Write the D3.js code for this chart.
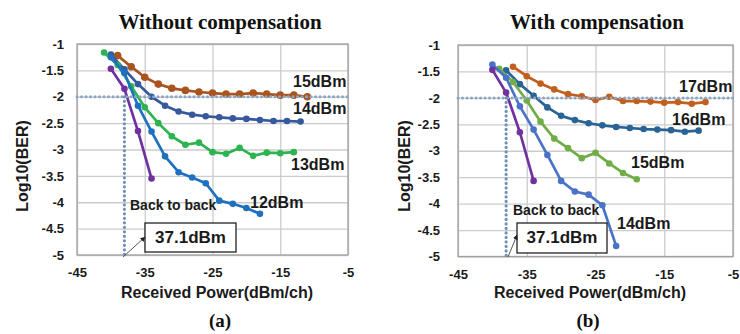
<!DOCTYPE html>
<meta charset="utf-8">
<head>
  <style>
    html, body { margin: 0; padding: 0; background: #fff; }
    svg { display: block; }
    .tick text { font-family: Arial, "Liberation Sans", sans-serif; font-weight: bold; font-size: 13px; fill: #1a1a1a; }
    .lbl { font-family: Arial, "Liberation Sans", sans-serif; font-weight: bold; fill: #1a1a1a; }
    .ttl { font-family: "Times New Roman", "Liberation Serif", serif; font-weight: bold; fill: #111; }
  </style>
</head>
<script src="https://cdn.jsdelivr.net/npm/d3@7"></script>
<body>
<script>
  // axis ticks (same for both panels)
  var xTicks = [-45, -35, -25, -15, -5];
  var yTicks = [-1, -1.5, -2, -2.5, -3, -3.5, -4, -4.5, -5];

  // (a) without compensation
  var a15x = [-39, -37, -35, -33, -31, -29, -27, -25, -23, -21, -19, -17, -15, -13, -11];
  var a15y = [-1.22, -1.43, -1.63, -1.76, -1.84, -1.88, -1.91, -1.93, -1.95, -1.95, -1.93, -1.95, -1.97, -1.97, -2.0];
  var a14x = [-40, -38, -36, -34, -32, -30, -28, -26, -24, -22, -20, -18, -16, -14, -12];
  var a14y = [-1.2, -1.48, -1.76, -2.0, -2.17, -2.28, -2.34, -2.37, -2.39, -2.41, -2.42, -2.44, -2.46, -2.46, -2.47];
  var a13x = [-41, -39, -37, -35, -33, -31, -29, -27, -25, -23, -21, -19, -17, -15, -13];
  var a13y = [-1.16, -1.4, -1.8, -2.2, -2.5, -2.75, -2.91, -2.87, -3.05, -3.08, -2.97, -3.12, -3.06, -3.07, -3.05];
  var a12x = [-40, -38, -36, -34, -32, -30, -28, -26, -24, -22, -20, -18];
  var a12y = [-1.25, -1.55, -2.17, -2.66, -3.13, -3.43, -3.53, -3.64, -3.97, -4.03, -4.11, -4.22];
  var aB2Bx = [-40, -38, -36, -34];
  var aB2By = [-1.47, -1.85, -2.65, -3.55];

  // (b) with compensation
  var b17x = [-37, -35, -33, -31, -29, -27, -25, -23, -21, -19, -17, -15, -13, -11, -9];
  var b17y = [-1.41, -1.59, -1.73, -1.84, -1.93, -1.97, -2.04, -1.98, -2.06, -2.06, -2.07, -2.09, -2.08, -2.11, -2.08];
  var b16x = [-38, -36, -34, -32, -30, -28, -26, -24, -22, -20, -18, -16, -14, -12, -10];
  var b16y = [-1.48, -1.74, -1.96, -2.18, -2.34, -2.42, -2.48, -2.52, -2.55, -2.57, -2.59, -2.6, -2.61, -2.64, -2.62];
  var b15x = [-39, -37, -35, -33, -31, -29, -27, -25, -23, -21, -19];
  var b15y = [-1.45, -1.7, -2.05, -2.45, -2.77, -2.95, -3.14, -3.04, -3.24, -3.42, -3.54];
  var b14x = [-40, -38, -36, -34, -32, -30, -28, -26, -24, -22];
  var b14y = [-1.37, -1.62, -2.16, -2.6, -3.08, -3.57, -3.77, -3.83, -4.03, -4.8];
  var bB2Bx = [-40, -38, -36, -34];
  var bB2By = [-1.47, -1.9, -2.65, -3.57];

  var thresholdBER = -2;
  var sensitivity = -38;
  var b2bText = "37.1dBm";

  function zip(xs, ys) { return xs.map(function(v, i) { return [v, ys[i]]; }); }

  var panels = [
    {
      title: "Without compensation", tag: "(a)",
      left: 77, right: 348, top: 44, bottom: 255,
      titleX: 220, tagX: 220, xTitleX: 217, yTitleX: 22, yPad: 13,
      series: [
        { name: "15dBm", pts: zip(a15x, a15y), color: "#a9541f", r: 3.8, lx: 293, ly: 87 },
        { name: "14dBm", pts: zip(a14x, a14y), color: "#35599c", r: 3.3, lx: 293, ly: 114 },
        { name: "13dBm", pts: zip(a13x, a13y), color: "#2db350", r: 3.3, lx: 291, ly: 170 },
        { name: "12dBm", pts: zip(a12x, a12y), color: "#2070c0", r: 3.3, lx: 250, ly: 208 },
        { name: "", pts: zip(aB2Bx, aB2By), color: "#7030a0", r: 3.3 }
      ],
      b2b: { x: 130, y: 210 },
      box: { x: 145, y: 223, w: 91, h: 29 },
      arrow: [[123, 257], [145, 237]]
    },
    {
      title: "With compensation", tag: "(b)",
      left: 458, right: 733, top: 45, bottom: 256.5,
      titleX: 597, tagX: 588, xTitleX: 590, yTitleX: 404, yPad: 18,
      series: [
        { name: "17dBm", pts: zip(b17x, b17y), color: "#c35f1c", r: 3.3, lx: 679, ly: 92 },
        { name: "16dBm", pts: zip(b16x, b16y), color: "#2a6496", r: 3.3, lx: 672, ly: 125 },
        { name: "15dBm", pts: zip(b15x, b15y), color: "#70ad47", r: 3.3, lx: 631, ly: 168 },
        { name: "14dBm", pts: zip(b14x, b14y), color: "#4a73c8", r: 3.3, lx: 617, ly: 229 },
        { name: "", pts: zip(bB2Bx, bB2By), color: "#7030a0", r: 3.3 }
      ],
      b2b: { x: 513, y: 215 },
      box: { x: 517, y: 223, w: 90, h: 30 },
      arrow: [[508, 257], [517, 235]]
    }
  ];

  var svg = d3.select("body").append("svg")
    .attr("width", 740)
    .attr("height", 334);

  var defs = svg.append("defs");
  defs.append("marker")
    .attr("id", "arrowHead")
    .attr("viewBox", "0 0 10 10")
    .attr("refX", 9).attr("refY", 5)
    .attr("markerWidth", 5).attr("markerHeight", 5)
    .attr("orient", "auto")
    .append("path").attr("d", "M0,0 L10,5 L0,10 z").attr("fill", "#222");

  panels.forEach(function(p) {
    var x = d3.scaleLinear().domain([-45, -5]).range([p.left, p.right]);
    var y = d3.scaleLinear().domain([-1, -5]).range([p.top, p.bottom]);
    var g = svg.append("g");
    var h = p.bottom - p.top, w = p.right - p.left;

    // gridlines
    g.append("g")
      .attr("transform", "translate(0," + p.bottom + ")")
      .call(d3.axisBottom(x).tickValues(xTicks).tickSize(-h).tickFormat(""))
      .call(function(s) { s.select(".domain").remove(); })
      .selectAll("line").attr("stroke", "#cccccc").attr("stroke-width", 1.3);
    g.append("g")
      .attr("transform", "translate(" + p.left + ",0)")
      .call(d3.axisLeft(y).tickValues(yTicks).tickSize(-w).tickFormat(""))
      .call(function(s) { s.select(".domain").remove(); })
      .selectAll("line").attr("stroke", "#cccccc").attr("stroke-width", 1.3);

    g.append("rect")
      .attr("x", p.left).attr("y", p.top).attr("width", w).attr("height", h)
      .attr("fill", "none").attr("stroke", "#a0a0a0").attr("stroke-width", 1.3);

    // tick labels
    g.append("g")
      .attr("transform", "translate(0," + p.bottom + ")")
      .call(d3.axisBottom(x).tickValues(xTicks).tickSize(0).tickPadding(13).tickFormat(function(d) { return d; }))
      .call(function(s) { s.select(".domain").remove(); });
    g.append("g")
      .attr("transform", "translate(" + p.left + ",0)")
      .call(d3.axisLeft(y).tickValues(yTicks).tickSize(0).tickPadding(p.yPad).tickFormat(function(d) { return d; }))
      .call(function(s) { s.select(".domain").remove(); });

    // series
    var line = d3.line().x(function(d) { return x(d[0]); }).y(function(d) { return y(d[1]); });
    p.series.forEach(function(s) {
      g.append("path").datum(s.pts)
        .attr("d", line)
        .attr("fill", "none")
        .attr("stroke", s.color)
        .attr("stroke-width", 2.7)
        .attr("stroke-linejoin", "round");
      g.selectAll(null).data(s.pts).enter().append("circle")
        .attr("cx", function(d) { return x(d[0]); })
        .attr("cy", function(d) { return y(d[1]); })
        .attr("r", s.r)
        .attr("fill", s.color);
      if (s.name) {
        g.append("text").attr("class", "lbl")
          .attr("x", s.lx).attr("y", s.ly)
          .attr("font-size", 16)
          .text(s.name);
      }
    });

    // BER threshold and sensitivity dotted lines
    g.append("line")
      .attr("x1", x(-45)).attr("x2", x(-5))
      .attr("y1", y(thresholdBER)).attr("y2", y(thresholdBER))
      .attr("stroke", "#8ba6c4").attr("stroke-width", 3)
      .attr("stroke-linecap", "round").attr("stroke-dasharray", "0.1 4.4");
    g.append("line")
      .attr("x1", x(sensitivity)).attr("x2", x(sensitivity))
      .attr("y1", y(thresholdBER)).attr("y2", y(-5))
      .attr("stroke", "#6f90b9").attr("stroke-width", 3.2)
      .attr("stroke-linecap", "round").attr("stroke-dasharray", "0.1 4.4");

    // annotation
    g.append("text").attr("class", "lbl")
      .attr("x", p.b2b.x).attr("y", p.b2b.y)
      .attr("font-size", 14).attr("fill", "#333")
      .text("Back to back");
    g.append("rect")
      .attr("x", p.box.x).attr("y", p.box.y).attr("width", p.box.w).attr("height", p.box.h)
      .attr("fill", "#fff").attr("stroke", "#222").attr("stroke-width", 1.3);
    g.append("text").attr("class", "lbl")
      .attr("x", p.box.x + p.box.w / 2).attr("y", p.box.y + 20)
      .attr("text-anchor", "middle").attr("font-size", 17)
      .text(b2bText);
    g.append("line")
      .attr("x1", p.arrow[0][0]).attr("y1", p.arrow[0][1])
      .attr("x2", p.arrow[1][0]).attr("y2", p.arrow[1][1])
      .attr("stroke", "#555").attr("stroke-width", 1)
      .attr("marker-end", "url(#arrowHead)");

    // titles
    g.append("text").attr("class", "ttl")
      .attr("x", p.titleX).attr("y", 29)
      .attr("text-anchor", "middle").attr("font-size", 21)
      .text(p.title);
    g.append("text").attr("class", "ttl")
      .attr("x", p.tagX).attr("y", 327)
      .attr("text-anchor", "middle").attr("font-size", 19)
      .text(p.tag);
    g.append("text").attr("class", "lbl")
      .attr("x", p.xTitleX).attr("y", 298)
      .attr("text-anchor", "middle").attr("font-size", 16)
      .text("Received Power(dBm/ch)");
    g.append("text").attr("class", "lbl")
      .attr("transform", "translate(" + (p.yTitleX + 6) + ",166) rotate(-90)")
      .attr("text-anchor", "middle").attr("font-size", 16)
      .text("Log10(BER)");
  });
</script>
</body>
